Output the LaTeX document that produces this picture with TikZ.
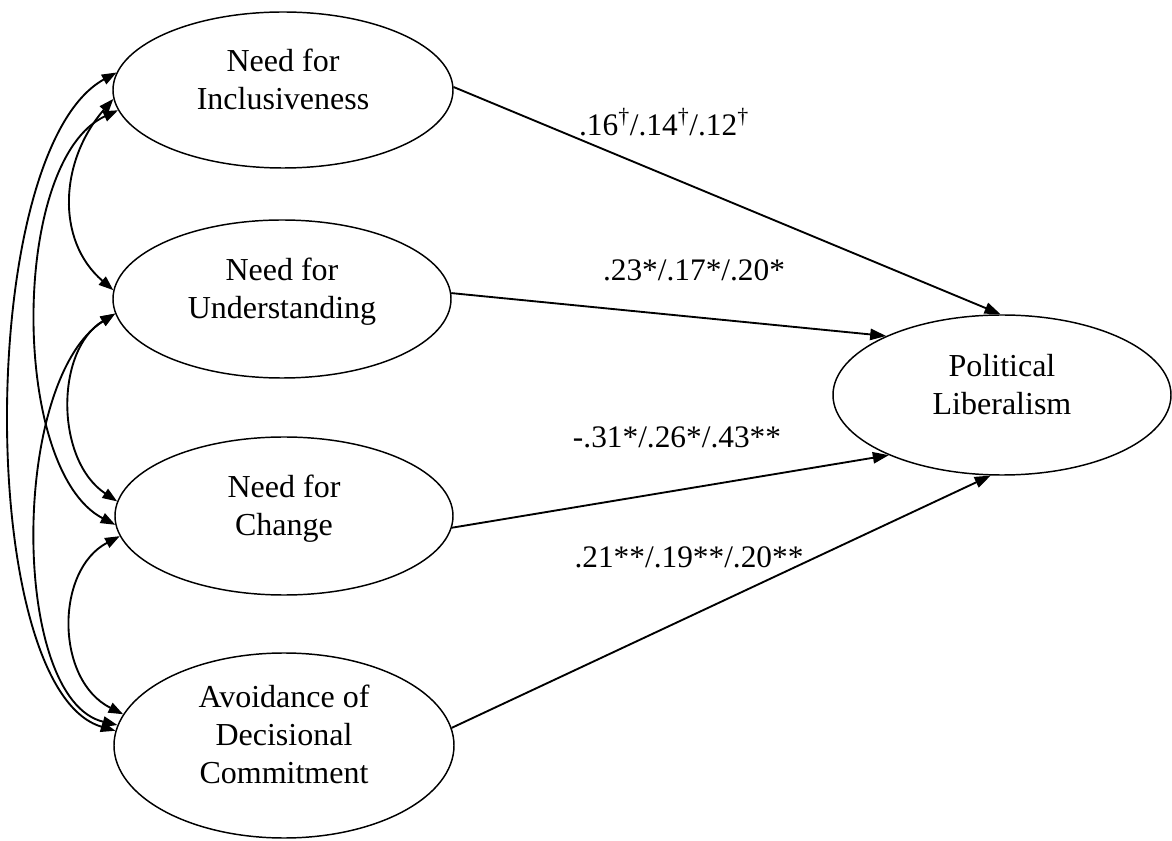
\documentclass[tikz,border=0pt]{standalone}
\usepackage{fontspec}
\setmainfont{Liberation Serif}
\usetikzlibrary{arrows.meta,shapes.geometric}
\begin{document}
\begin{tikzpicture}[x=0.75pt,y=-0.75pt,
  var/.style={draw, ellipse, inner sep=0pt, line width=1.1pt},
  vtext/.style={inner sep=0pt, align=center, font=\fontsize{24}{28.5}\selectfont},
  coef/.style={inner sep=0pt, anchor=base, font=\fontsize{23.5}{28}\selectfont},
  path/.style={line width=1.4pt, -{Triangle[length=12pt,width=8.5pt]}},
  cov/.style={line width=1.4pt, {Triangle[length=11pt,width=8pt]}-{Triangle[length=11pt,width=8pt]}}]
\useasboundingbox (0,0) rectangle (1172,841);

% latent variables
\node[var, minimum width=255pt, minimum height=117pt] (inc) at (283,90) {};
\node[var, minimum width=253.5pt, minimum height=118.5pt] (und) at (282,299) {};
\node[var, minimum width=253.5pt, minimum height=118.5pt] (chg) at (284,516) {};
\node[var, minimum width=255pt, minimum height=138.75pt] (avo) at (284,745.5) {};
\node[var, minimum width=253.5pt, minimum height=120pt] (pol) at (1002,395) {};

\node[vtext, yshift=8pt] (incT) at (inc) {Need for\\Inclusiveness};
\node[vtext, yshift=5.6pt] (undT) at (und) {Need for\\Understanding};
\node[vtext, yshift=5.6pt] (chgT) at (chg) {Need for\\Change};
\node[vtext, yshift=8.6pt] (avoT) at (avo) {Avoidance of\\Decisional\\Commitment};
\node[vtext, yshift=8pt] (polT) at (pol) {Political\\Liberalism};

% paths
\draw[path] (inc.1) -- (pol.91);
\draw[path] (und.2.4) -- (pol.153.2);
\draw[path] (chg.-4) -- (pol.208.3);
\draw[path] (avo.6) -- (pol.262);

% coefficients
\node[coef] (c1) at (664,136) {.16\textsuperscript{\textdagger}/.14\textsuperscript{\textdagger}/.12\textsuperscript{\textdagger}};
\node[coef] (c2) at (694,281) {.23*/.17*/.20*};
\node[coef] (c3) at (677,448) {-.31*/.26*/.43**};
\node[coef] (c4) at (689,568) {.21**/.19**/.20**};

% covariances
\draw[cov] (inc.174) .. controls (-25,150) and (-25,690) .. (avo.175.6);
\draw[cov] (inc.183.4) .. controls (60,160) and (55,240) .. (und.177);
\draw[cov] (inc.187.7) .. controls (10,160) and (10,470) .. (chg.183);
\draw[cov] (und.185.5) .. controls (55,350) and (55,460) .. (chg.175.5);
\draw[cov] (und.185.5) .. controls (10,380) and (10,700) .. (avo.173);
\draw[cov] (chg.187) .. controls (55,570) and (55,680) .. (avo.169.4);
\end{tikzpicture}
\end{document}
